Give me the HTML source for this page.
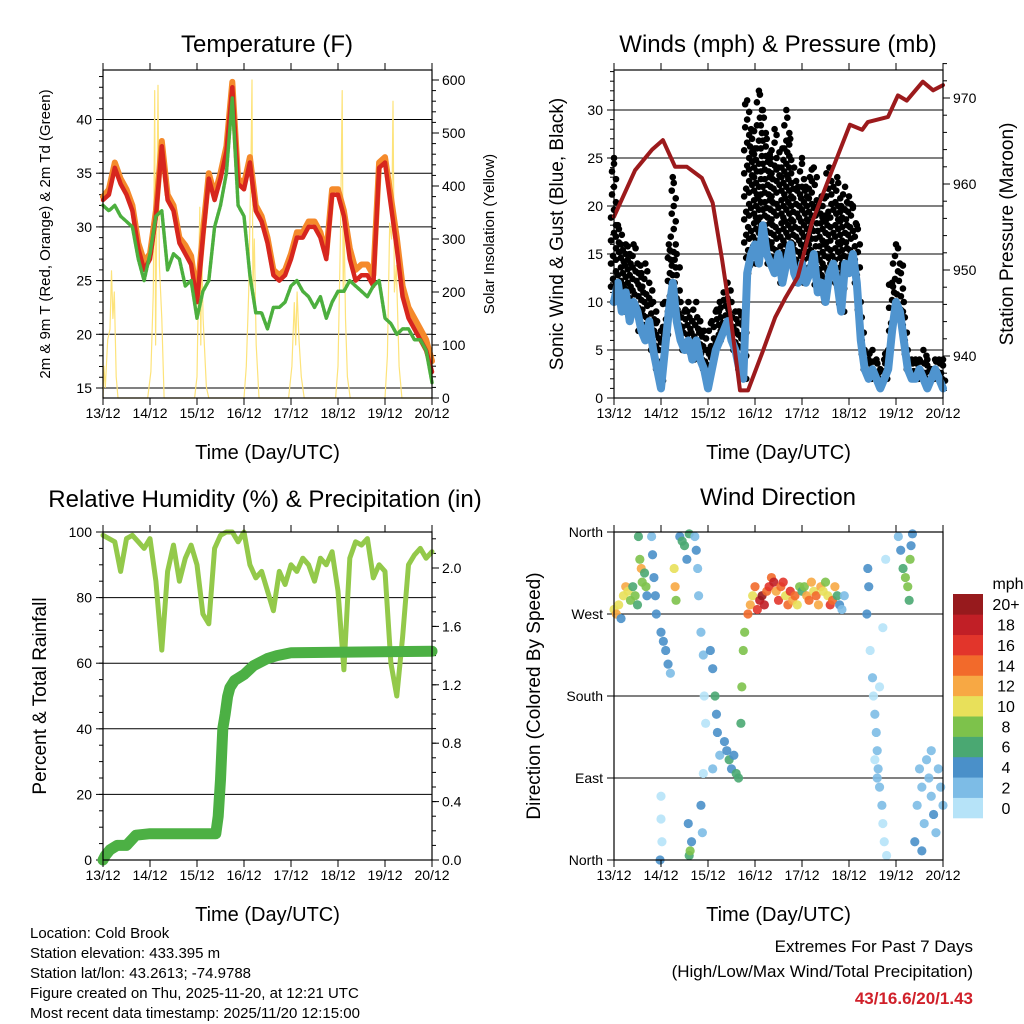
<!DOCTYPE html>
<html><head><meta charset="utf-8"><style>
body{margin:0;background:#fff}
svg{display:block;font-family:"Liberation Sans",sans-serif}
</style></head><body>
<svg id="c" width="1024" height="1024" viewBox="0 0 1024 1024"></svg>
<script>
// ---- data ----
const tDays = [0,0.125,0.25,0.375,0.5,0.625,0.75,0.875,1,1.125,1.25,1.375,1.5,1.625,1.75,1.875,2,2.125,2.25,2.375,2.5,2.625,2.75,2.875,3,3.125,3.25,3.375,3.5,3.625,3.75,3.875,4,4.125,4.25,4.375,4.5,4.625,4.75,4.875,5,5.125,5.25,5.375,5.5,5.625,5.75,5.875,6,6.125,6.25,6.375,6.5,6.625,6.75,6.875,7];
const t2m = [32.5,33,35.5,34,33,31.5,28,26,27,31,37.5,32.5,31.5,28.5,27.5,26.5,23,29,34.5,32.5,34.5,37,43,34,33.5,36,31.5,30.5,28.5,25.5,25,25.5,27,29,29,30,30,29,27,33,33,31,27,25,25.5,25.5,24.5,35.5,36,32,28,23.5,21.5,20.5,19.5,18.5,16.5];
const t9m = [32.8,33.5,36,34.5,33.5,32,28.5,26.8,27.5,31.5,38,33,32,29,28.3,27.3,23.5,29.5,35,33,35,37.5,43.5,34.5,34,36.5,32,31,29,26,25.5,26,27.5,29.5,29.5,30.5,30.5,29.5,27.5,33.5,33.5,31.5,28,26,26.5,26.5,25.5,36,36.5,32.8,29,24.5,22.5,21.5,20.5,19.5,17.5];
const td2m = [32,31.5,32,31,30.5,30,27,25,27.5,31,31.5,26,27.5,27,24.5,25,21.5,24,25,30,32,35,42,32,31,25.5,22,22,20.5,22.5,22.5,23,24.5,25,24,23.5,22.5,23.5,21.5,23,24,24,25,24.5,24,23.5,24.5,25,21.5,21,20,20.5,20.5,19.5,19.5,18.5,15.5];
const solarDay = [0,0.02,0.05,0.1,0.15,0.18,0.21,0.24,0.28,0.32,0.95,1.02,1.07,1.1,1.12,1.15,1.17,1.2,1.25,1.3,1.95,2,2.03,2.06,2.08,2.1,2.13,2.2,2.25,3,3.05,3.1,3.15,3.17,3.19,3.22,3.26,3.32,3.95,4.02,4.07,4.1,4.13,4.17,4.22,4.28,4.95,5,5.05,5.09,5.11,5.13,5.16,5.2,5.26,6,6.05,6.1,6.14,6.17,6.2,6.24,6.3,6.36,7];
const solarVal = [0,60,20,110,130,240,150,200,40,0,0,50,200,580,100,400,590,250,150,0,0,40,200,360,100,280,150,20,0,0,60,200,450,600,200,300,100,0,0,60,180,100,200,110,40,0,0,60,300,580,200,330,150,40,0,0,80,330,300,560,200,250,60,0,0];
const windDay = [];
const sonic = [10,12,9,11,8,10,9,7,6,8,5,3,1,5,9,12,8,6,5,6,4,6,4,3,1,3,5,6,7,8,6,5,3,2,13,15,16,14,18,15,14,13,15,12,14,16,13,12,14,12,13,15,11,12,10,13,14,12,9,14,13,15,12,6,3,2,3,2,1,2,3,7,10,9,6,3,2,2,3,2,1,2,3,2,1];
const gust = [25,18,17,16,15,16,14,13,14,12,10,8,7,10,16,23,15,10,9,10,8,10,8,7,5,8,9,10,11,12,10,9,9,8,31,28,26,32,30,27,25,28,24,26,30,27,24,22,25,22,23,24,20,21,19,24,22,23,20,22,21,20,18,10,5,4,5,4,3,4,5,12,16,14,10,5,4,4,4,5,4,3,4,4,4];
for (let i = 0; i < sonic.length; i++) windDay.push(i / 12);
const pressDay = [0,0.45,0.81,1.04,1.3,1.55,1.87,2.1,2.3,2.47,2.68,2.85,3.15,3.43,3.64,3.91,4.21,4.64,5.02,5.28,5.4,5.83,6.04,6.23,6.57,6.79,7];
const pressVal = [956.2,961.6,964,965.1,962,962,960.7,957.8,951.2,945,936,936,940.3,944.5,946.7,949.2,955.5,961.6,966.9,966.3,967.2,967.8,970.3,969.7,971.9,970.9,971.5];
const rh = [99,98,97,88,98,99,97,95,98,85,64,88,96,85,92,96,90,75,72,95,99,100,100,97,100,90,86,88,82,76,88,84,90,88,92,90,85,92,90,94,82,58,92,97,96,98,86,90,88,60,50,68,90,93,95,92,94];
const precDay = [0,0.05,0.15,0.3,0.5,0.7,1.0,2.0,2.4,2.45,2.5,2.55,2.6,2.65,2.7,2.8,3.0,3.2,3.5,3.7,4.0,7.0];
const precVal = [0,0.03,0.07,0.1,0.1,0.17,0.18,0.18,0.18,0.3,0.55,0.9,1.0,1.12,1.18,1.23,1.27,1.33,1.38,1.4,1.42,1.43];
const dirDay = [0,0.05,0.1,0.15,0.2,0.25,0.3,0.35,0.4,0.45,0.5,0.52,0.55,0.58,0.6,0.65,0.68,0.7,0.8,0.82,0.85,0.88,0.9,1.0,1.05,1.1,1.15,1.2,1.0,1.0,1.02,0.98,1.28,1.3,1.32,1.4,1.45,1.5,1.55,1.6,1.6,1.62,1.65,1.58,1.72,1.75,1.78,1.8,1.85,1.9,1.92,1.95,1.9,1.85,1.88,2.05,2.1,2.15,2.18,2.2,2.25,2.1,2.35,2.4,2.45,2.5,2.55,2.6,2.65,2.7,2.72,2.75,2.78,2.85,2.9,2.95,3.0,3.05,3.1,3.15,3.2,3.25,3.3,3.35,3.4,3.45,3.5,3.55,3.6,3.65,3.7,3.75,3.8,3.85,3.9,3.95,4.0,4.05,4.1,4.15,4.2,4.25,4.3,4.35,4.4,4.45,4.5,4.55,4.6,4.65,4.7,4.75,4.8,4.85,4.9,5.4,5.42,5.38,5.45,5.5,5.52,5.55,5.58,5.6,5.62,5.65,5.7,5.72,5.75,5.8,5.55,5.6,5.72,5.78,5.65,6.05,6.1,6.15,6.2,6.25,6.3,6.32,6.28,6.35,6.4,6.45,6.5,6.55,6.6,6.65,6.7,6.75,6.8,6.85,6.9,6.95,7.0,6.55,6.75];
const dirDeg = [275,270,280,265,290,300,295,285,300,290,280,355,330,320,305,315,300,290,355,335,310,290,270,250,240,230,215,205,70,45,20,0,320,300,285,355,350,345,330,358,5,10,20,40,355,340,320,290,250,225,180,150,95,60,30,230,210,180,160,140,115,100,130,120,110,100,115,95,90,150,190,230,250,270,280,290,300,275,285,290,280,295,300,310,305,295,285,300,305,290,280,295,285,290,280,300,295,300,290,285,305,295,290,280,300,295,305,290,280,285,300,290,280,275,290,320,300,270,230,200,180,160,140,120,100,80,60,40,20,5,110,90,255,330,190,355,340,320,310,300,330,345,285,358,20,60,100,80,40,110,90,70,50,30,100,80,60,10,120];
const dirSpd = [10,12,10,4,10,11,10,8,6,8,6,6,8,12,8,6,7,4,2,4,4,4,4,4,4,4,4,2,0,0,0,4,10,12,8,4,6,6,4,6,6,8,4,4,2,4,2,2,2,2,0,0,0,4,2,4,4,6,4,4,2,2,4,4,6,4,4,6,6,6,8,8,8,14,12,10,14,16,18,20,18,14,16,14,18,12,16,14,16,10,14,16,12,14,10,8,6,8,12,14,12,10,14,12,12,10,8,10,16,14,12,6,4,2,2,4,4,4,0,2,0,2,2,2,2,2,2,0,0,0,0,2,0,0,0,2,4,6,8,8,8,4,6,4,4,2,2,2,2,2,2,2,4,2,2,2,2,4,2];
const cbLabels = ["0","2","4","6","8","10","12","14","16","18","20+"];
const cbColors = ["#b6e3f8","#7dbce6","#4a90c9","#4aa872","#7dc24b","#e8e05a","#f7a844","#f26a2b","#e2352b","#c11f26","#971a1d"];

// ---- helpers ----
const S = document.getElementById('c');
const NS = 'http://www.w3.org/2000/svg';
function el(tag, attrs, parent) { const e = document.createElementNS(NS, tag); for (const k in attrs) e.setAttribute(k, attrs[k]); (parent || S).appendChild(e); return e; }
function txt(x, y, s, size, anchor, extra, parent) { const t = el('text', Object.assign({x: x, y: y, 'font-size': size, 'text-anchor': anchor || 'middle', fill: '#000'}, extra || {}), parent); t.textContent = s; return t; }
function spdColor(s) { let i = Math.min(10, Math.max(0, Math.round(s / 2))); return cbColors[i]; }
const dayLabels = ["13/12","14/12","15/12","16/12","17/12","18/12","19/12","20/12"];

function panel(name) {
  const g = el('g', {});
  
  
  return g;
}
function frame(g, x0, y0, w, h) {
  el('rect', {x: x0, y: y0, width: w, height: h, fill: 'none', stroke: '#000', 'stroke-width': 1.2}, g);
  for (let d = 0; d <= 7; d++) {
    const x = x0 + d * w / 7;
    el('line', {x1: x, y1: y0 + h, x2: x, y2: y0 + h + 7, stroke: '#000'}, g);
    el('line', {x1: x, y1: y0, x2: x, y2: y0 - 7, stroke: '#000'}, g);
    const t = txt(x, y0 + h + 20, dayLabels[d], 14, 'middle', {}, g);
    
    
  }
  const xt = txt(x0 + w / 2, y0 + h + 61, 'Time (Day/UTC)', 20, 'middle', {}, g);
  
  
}
function leftAxis(g, x0, y0, w, h, vals, labels, yf, minor, grid) {
  vals.forEach((v, i) => {
    const y = yf(v);
    if (grid) el('line', {x1: x0, y1: y, x2: x0 + w, y2: y, stroke: '#000', 'stroke-width': 1}, g);
    el('line', {x1: x0 - 7, y1: y, x2: x0, y2: y, stroke: '#000'}, g);
    const t = txt(x0 - 11, y + 5, labels[i], 14, 'end', {}, g);
    
    
  });
  (minor || []).forEach(v => { const y = yf(v); el('line', {x1: x0 - 4, y1: y, x2: x0, y2: y, stroke: '#000'}, g); });
}
function rightAxis(g, x1, vals, labels, yf, minor) {
  vals.forEach((v, i) => {
    const y = yf(v);
    el('line', {x1: x1, y1: y, x2: x1 + 7, y2: y, stroke: '#000'}, g);
    const t = txt(x1 + 10, y + 5, labels[i], 14, 'start', {}, g);
    
    
  });
  (minor || []).forEach(v => { const y = yf(v); el('line', {x1: x1, y1: y, x2: x1 + 4, y2: y, stroke: '#000'}, g); });
}
function poly(g, xs, ys, xf, yf, attrs, name) {
  const pts = xs.map((d, i) => xf(d).toFixed(1) + ',' + yf(ys[i]).toFixed(1)).join(' ');
  const p = el('polyline', Object.assign({points: pts, fill: 'none', 'stroke-linejoin': 'round', 'stroke-linecap': 'round'}, attrs), g);
  
  
  return p;
}
function rotTitle(g, x, y, s, size, name) {
  const t = txt(x, y, s, size, 'middle', {transform: 'rotate(-90 ' + x + ' ' + y + ')'}, g);
  
  
}
function range(a, b, s) { const r = []; for (let v = a; v <= b + 1e-9; v += s) r.push(+v.toFixed(4)); return r; }

// ---- Panel 1: Temperature ----
{
  const X0 = 103, Y0 = 70, W = 329, H = 328;
  const g = panel('temperature-panel');
  const xf = d => X0 + d * W / 7;
  const yT = v => 388 - (v - 15) * 10.74;
  const ySol = v => 398 - v * 0.53;
  const tt = txt(267, 52, 'Temperature (F)', 24, 'middle', {}, g);
  
  
  leftAxis(g, X0, Y0, W, H, [15,20,25,30,35,40], ['15','20','25','30','35','40'], yT, range(16,44,1), true);
  rightAxis(g, X0 + W, [0,100,200,300,400,500,600], ['0','100','200','300','400','500','600'], ySol, range(0,600,20));
  poly(g, solarDay, solarVal, xf, ySol, {stroke: '#fde37a', 'stroke-width': 1.2}, 'solar-insolation-line');
  poly(g, tDays, t9m, xf, yT, {stroke: '#f58a2b', 'stroke-width': 6}, 't9m-line');
  poly(g, tDays, t2m, xf, yT, {stroke: '#d7261e', 'stroke-width': 4.5}, 't2m-line');
  poly(g, tDays, td2m, xf, yT, {stroke: '#4caf3e', 'stroke-width': 3.5, 'stroke-dasharray': '3 1.5'}, 'td2m-line');
  frame(g, X0, Y0, W, H);
  rotTitle(g, 50, 234, '2m & 9m T (Red, Orange) & 2m Td (Green)', 15, 'y-axis-title');
  rotTitle(g, 494, 234, 'Solar Insolation (Yellow)', 15, 'y2-axis-title');
}

// ---- Panel 2: Winds & Pressure ----
{
  const X0 = 614, Y0 = 70, W = 329, H = 328;
  const g = panel('winds-panel');
  const xf = d => X0 + d * W / 7;
  const yW = v => 398 - v * 9.6;
  const yP = v => 356 - (v - 940) * 8.6;
  const tt = txt(778, 52, 'Winds (mph) & Pressure (mb)', 24, 'middle', {}, g);
  
  
  leftAxis(g, X0, Y0, W, H, [0,5,10,15,20,25,30], ['0','5','10','15','20','25','30'], yW, range(1,34,1), true);
  rightAxis(g, X0 + W, [940,950,960,970], ['940','950','960','970'], yP, range(936,974,2));
  windDay.forEach((d, i) => {
    for (let v = sonic[i]; v <= gust[i]; v += 0.8) {
      const c = el('circle', {cx: xf(d) + ((i * 7 + Math.round(v * 3)) % 7) - 3, cy: yW(v), r: 3.3, fill: '#000'}, g);
      
      
    }
    const c2 = el('circle', {cx: xf(d), cy: yW(gust[i]), r: 3.3, fill: '#000'}, g);
    
    
  });
  poly(g, windDay, sonic, xf, yW, {stroke: '#4f94cf', 'stroke-width': 8}, 'sonic-wind-line');
  poly(g, pressDay, pressVal, xf, yP, {stroke: '#9c1a1c', 'stroke-width': 4}, 'pressure-line');
  frame(g, X0, Y0, W, H);
  rotTitle(g, 563, 234, 'Sonic Wind & Gust (Blue, Black)', 19, 'y-axis-title');
  rotTitle(g, 1013, 234, 'Station Pressure (Maroon)', 19, 'y2-axis-title');
}

// ---- Panel 3: RH & Precip ----
{
  const X0 = 103, Y0 = 532, W = 329, H = 328;
  const g = panel('humidity-panel');
  const xf = d => X0 + d * W / 7;
  const yR = v => 860 - v * 3.28;
  const yPr = v => 860 - v * 146;
  const tt = txt(265, 507, 'Relative Humidity (%) & Precipitation (in)', 24, 'middle', {}, g);
  
  
  leftAxis(g, X0, Y0, W, H, [0,20,40,60,80,100], ['0','20','40','60','80','100'], yR, range(0,100,5), true);
  rightAxis(g, X0 + W, [0,0.4,0.8,1.2,1.6,2.0], ['0.0','0.4','0.8','1.2','1.6','2.0'], yPr, range(0,2.2,0.1));
  poly(g, tDays, rh, xf, yR, {stroke: '#93c94a', 'stroke-width': 5}, 'rh-line');
  poly(g, precDay, precVal, xf, yPr, {stroke: '#4cb044', 'stroke-width': 11}, 'precip-line');
  frame(g, X0, Y0, W, H);
  rotTitle(g, 46, 696, 'Percent & Total Rainfall', 19, 'y-axis-title');
}

// ---- Panel 4: Wind Direction ----
{
  const X0 = 614, Y0 = 532, W = 329, H = 328;
  const g = panel('wind-direction-panel');
  const xf = d => X0 + d * W / 7;
  const yD = v => 860 - v * H / 360;
  const tt = txt(778, 505, 'Wind Direction', 24, 'middle', {}, g);
  
  
  leftAxis(g, X0, Y0, W, H, [0,90,180,270,360], ['North','East','South','West','North'], yD, [], true);
  dirDay.forEach((d, i) => {
    const c = el('circle', {cx: xf(d), cy: yD(dirDeg[i]), r: 4.6, fill: spdColor(dirSpd[i]), opacity: 0.9}, g);
    
    
  });
  frame(g, X0, Y0, W, H);
  rotTitle(g, 540, 696, 'Direction (Colored By Speed)', 19, 'y-axis-title');
  const cb = el('g', {}, g);
  
  
  const bh = 224 / 11;
  cbColors.forEach((col, i) => {
    const y = 818 - (i + 1) * bh;
    const r = el('rect', {x: 953, y: y, width: 30, height: bh + 0.3, fill: col}, cb);
    
    
    txt(1006, y + bh / 2 + 6, cbLabels[i], 16, 'middle', {}, cb);
  });
  txt(1008, 589, 'mph', 16, 'middle', {}, cb);
}

// ---- footer ----
{
  const g = el('g', {});
  
  
  ['Location: Cold Brook','Station elevation: 433.395 m','Station lat/lon: 43.2613; -74.9788','Figure created on Thu, 2025-11-20, at 12:21 UTC','Most recent data timestamp: 2025/11/20 12:15:00']
    .forEach((s, i) => txt(30, 938 + i * 20, s, 15, 'start', {}, g));
  const e = el('g', {});
  
  
  txt(973, 952, 'Extremes For Past 7 Days', 17, 'end', {}, e);
  txt(973, 977, '(High/Low/Max Wind/Total Precipitation)', 17, 'end', {}, e);
  txt(973, 1004, '43/16.6/20/1.43', 17, 'end', {fill: '#d0202a', 'font-weight': 'bold'}, e);
}
</script>
</body></html>
